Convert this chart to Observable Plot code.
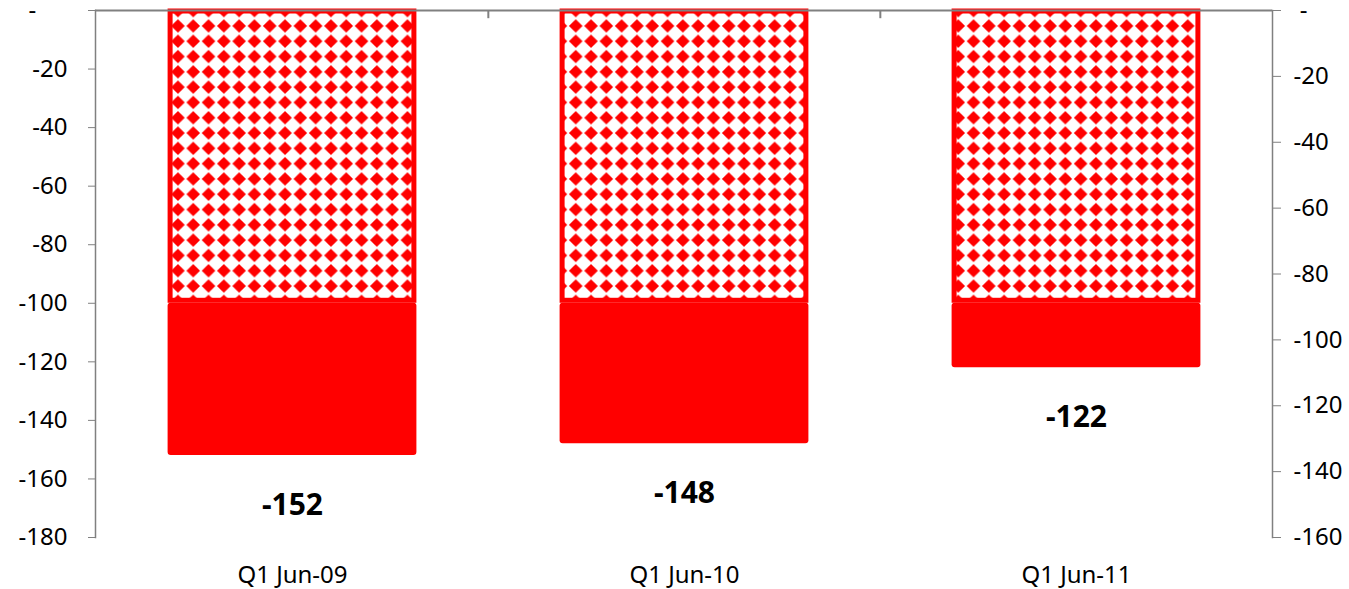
<!DOCTYPE html>
<html>
<head>
<meta charset="utf-8">
<script src="https://cdn.jsdelivr.net/npm/d3@7"></script>
<script src="https://cdn.jsdelivr.net/npm/@observablehq/plot@0.6"></script>
<style>
  body { margin: 0; background: #ffffff; }
</style>
</head>
<body>
<div id="chart"></div>
<script>
// Quarterly values: patterned base segment and overall total per quarter
const categories = ["Q1 Jun-09", "Q1 Jun-10", "Q1 Jun-11"];
const baseValues = [-100, -100, -100];
const totalValues = [-152, -148, -122];

// Tick values for the two vertical axes
const leftTicks = [0, -20, -40, -60, -80, -100, -120, -140, -160, -180];
const rightTicks = [0, -20, -40, -60, -80, -100, -120, -140, -160];
const leftMin = -180;
const rightMin = -160;

const rows = categories.map((category, i) => ({
  category,
  base: baseValues[i],
  total: totalValues[i]
}));

const width = 1349;
const height = 589;
const marginLeft = 95;
const marginRight = 77;
const marginTop = 10;
const marginBottom = 52;

const red = "#ff0000";
const gray = "#808080";
const step = (width - marginLeft - marginRight) / categories.length;
const barFraction = 0.635;
const barInset = step * (1 - barFraction) / 2;
const border = 5;

// right axis shares the left scale, rescaled to its own range
const toLeft = v => v * leftMin / rightMin;
const fromLeft = v => Math.round(v * rightMin / leftMin);

// zero is shown as a dash, offset like an accounting number format
const nb = "\u00a0";
const fmtLeft = d => d === 0 ? "-" + nb.repeat(5) : String(d);
const fmtRight = d => {
  const v = fromLeft(d);
  return v === 0 ? nb + "-" : String(v);
};

const svg = Plot.plot({
  width, height, marginLeft, marginRight, marginTop, marginBottom,
  style: { fontFamily: "'Noto Sans', 'Open Sans', sans-serif", background: "#ffffff" },
  x: { type: "band", domain: categories, padding: 0, label: null },
  y: { domain: [leftMin, 0], label: null },
  marks: [
    // patterned upper segment with a red border
    Plot.barY(rows, {
      x: "category", y1: 0, y2: "base",
      fill: "url(#diamonds)", stroke: red, strokeWidth: border,
      insetLeft: barInset + border / 2, insetRight: barInset + border / 2,
      insetTop: 1, insetBottom: border / 2
    }),
    // solid lower segment
    Plot.barY(rows, {
      x: "category", y1: "base", y2: "total",
      fill: red, rx: 3,
      insetLeft: barInset, insetRight: barInset
    }),
    // value labels under each bar
    Plot.text(rows, {
      x: "category", y: "total", text: d => String(d.total),
      dy: 50, fontSize: 30, fontWeight: "bold", fill: "#000"
    }),
    // top baseline and category separators
    Plot.ruleY([0], { stroke: gray, strokeWidth: 2 }),
    Plot.ruleX(categories.slice(1), {
      x: d => d, y1: 0, y2: -2.8, dx: -step / 2, stroke: gray, strokeWidth: 2
    }),
    // vertical axis lines
    Plot.frame({ anchor: "left", stroke: gray, strokeWidth: 1.5 }),
    Plot.frame({ anchor: "right", stroke: gray, strokeWidth: 1.5 }),
    Plot.axisY({
      anchor: "left", ticks: leftTicks, tickFormat: fmtLeft,
      tickSize: 7, tickPadding: 21, fontSize: 24,
      stroke: gray, fill: "#000", label: null
    }),
    Plot.axisY({
      anchor: "right", ticks: rightTicks.map(toLeft), tickFormat: fmtRight,
      tickSize: 8, tickPadding: 13, fontSize: 24,
      stroke: gray, fill: "#000", label: null
    }),
    Plot.axisX({
      anchor: "bottom", tickSize: 0, tickPadding: 28, fontSize: 24,
      fill: "#000", label: null
    })
  ]
});

// solid-diamond fill used by the upper segments: one red diamond per tile,
// tips almost touching, white diamonds left at the tile corners
const p = 15.3;
const r = 6.8;
const c = p / 2;
d3.select(svg).insert("defs", ":first-child").html(`
  <pattern id="diamonds" patternUnits="userSpaceOnUse" width="${p}" height="${p}" x="2" y="3">
    <rect width="${p}" height="${p}" fill="#ffffff"></rect>
    <polygon points="${c},${c - r} ${c + r},${c} ${c},${c + r} ${c - r},${c}" fill="${red}"></polygon>
  </pattern>
`);

document.getElementById("chart").appendChild(svg);
</script>
</body>
</html>
